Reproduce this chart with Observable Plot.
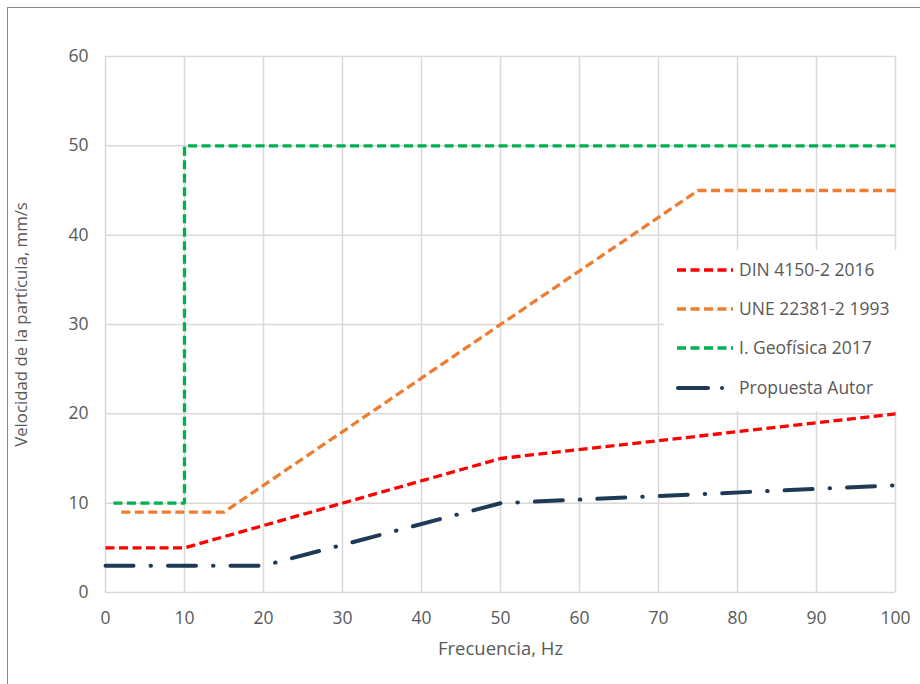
<!DOCTYPE html>
<html>
<head>
<meta charset="utf-8">
<script src="https://cdn.jsdelivr.net/npm/d3@7"></script>
<script src="https://cdn.jsdelivr.net/npm/@observablehq/plot@0.6"></script>
<style>
  html, body { margin: 0; padding: 0; background: #fff; }
  #wrap { position: relative; width: 920px; height: 684px; overflow: hidden; font-family: "Open Sans", sans-serif; }
  #border { position: absolute; left: 7px; top: 7px; width: 2000px; height: 2000px; border-left: 1.5px solid #8a8a8a; border-top: 1.5px solid #8a8a8a; }
  #legend { position: absolute; left: 664px; top: 250px; }
</style>
</head>
<body>
<div id="wrap"><div id="border"></div></div>
<script>
// ---- data ----
const xTicks = [0, 10, 20, 30, 40, 50, 60, 70, 80, 90, 100];
const yTicks = [0, 10, 20, 30, 40, 50, 60];

const seriesNames = ["DIN 4150-2 2016", "UNE 22381-2 1993", "I. Geofísica 2017", "Propuesta Autor"];

const dinFreq = [0, 10, 50, 100];
const dinVel  = [5, 5, 15, 20];

const uneFreq = [2, 15, 75, 100];
const uneVel  = [9, 9, 45, 45];

const geoFreq = [1, 10, 10, 100];
const geoVel  = [10, 10, 50, 50];

const autFreq = [0, 20, 50, 100];
const autVel  = [3, 3, 10, 12];

const colors = ["#ff0000", "#ed7d31", "#00b050", "#1f3a56"];
const dashes = ["9,4.5", "9,4.5", "9,4.5", "28,17,0.5,17"];

const toRows = (fs, vs) => fs.map((f, i) => ({f, v: vs[i]}));
const series = [
  toRows(dinFreq, dinVel),
  toRows(uneFreq, uneVel),
  toRows(geoFreq, geoVel),
  toRows(autFreq, autVel)
];

const tickColor = "#595959";

const lineMarks = series.map((rows, i) =>
  Plot.line(rows, {
    x: "f", y: "v",
    stroke: colors[i],
    strokeWidth: i === 3 ? 4 : 3.3,
    strokeDasharray: dashes[i],
    strokeLinecap: i === 3 ? "round" : "butt",
    strokeLinejoin: "miter"
  })
);

const chart = Plot.plot({
  width: 920,
  height: 684,
  marginLeft: 105,
  marginRight: 25,
  marginTop: 56,
  marginBottom: 92,
  style: { fontFamily: "'Open Sans', sans-serif", fontSize: "17px", color: tickColor, background: "transparent" },
  x: { domain: [0, 100], ticks: xTicks },
  y: { domain: [0, 60], ticks: yTicks },
  marks: [
    Plot.gridX(xTicks, { stroke: "#d9d9d9", strokeOpacity: 1, strokeWidth: 1.5 }),
    Plot.gridY(yTicks, { stroke: "#d9d9d9", strokeOpacity: 1, strokeWidth: 1.5 }),
    Plot.axisX(xTicks, { tickSize: 0, tickPadding: 19, label: null, fill: tickColor, fontSize: 17.5 }),
    Plot.axisY(yTicks, { tickSize: 0, tickPadding: 17, label: null, fill: tickColor, fontSize: 17.5 }),
    ...lineMarks,
    Plot.text(["Frecuencia, Hz"], { frameAnchor: "bottom", dy: 57, lineAnchor: "middle", textAnchor: "middle", fill: tickColor, fontSize: 18.5 }),
    Plot.text(["Velocidad de la partícula, mm/s"], { frameAnchor: "left", dx: -84, rotate: -90, lineAnchor: "middle", textAnchor: "middle", fill: tickColor, fontSize: 16.8 })
  ]
});
chart.style.position = "absolute";
chart.style.left = "0px";
chart.style.top = "0px";
document.getElementById("wrap").appendChild(chart);

// ---- legend overlay ----
const lg = d3.select("#wrap").append("svg")
  .attr("id", "legend")
  .attr("width", 244).attr("height", 161);
lg.append("rect").attr("width", 244).attr("height", 161).attr("fill", "#fff");
const rowY = [20, 59, 98, 138];
seriesNames.forEach((name, i) => {
  const g = lg.append("g").attr("transform", `translate(0,${rowY[i]})`);
  if (i === 3) {
    g.append("line").attr("x1", 14).attr("x2", 44).attr("y1", 0).attr("y2", 0)
      .attr("stroke", colors[i]).attr("stroke-width", 4).attr("stroke-linecap", "round");
    g.append("circle").attr("cx", 58).attr("cy", 0).attr("r", 2).attr("fill", colors[i]);
  } else {
    g.append("line").attr("x1", 13).attr("x2", 69).attr("y1", 0).attr("y2", 0)
      .attr("stroke", colors[i]).attr("stroke-width", 3.3).attr("stroke-dasharray", dashes[i]);
  }
  g.append("text").attr("x", 75).attr("y", 0).attr("dy", "0.35em")
    .attr("fill", tickColor).attr("font-size", 17.5)
    .attr("font-family", "'Open Sans', sans-serif")
    .text(name);
});
</script>
</body>
</html>
